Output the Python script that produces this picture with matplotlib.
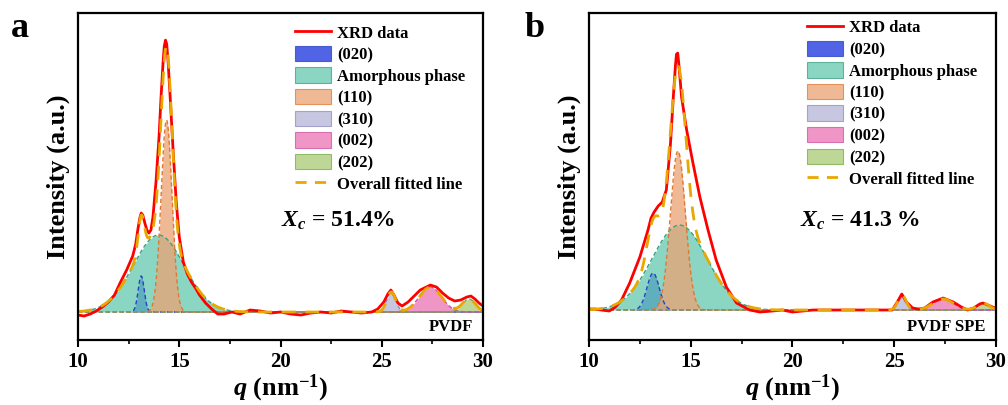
import numpy as np
import matplotlib
matplotlib.use("Agg")
import matplotlib.pyplot as plt
from matplotlib.lines import Line2D
from matplotlib.patches import Patch

plt.rcParams['font.family'] = ['Liberation Serif', 'DejaVu Serif']
plt.rcParams['font.weight'] = 'bold'
plt.rcParams['axes.labelweight'] = 'bold'
plt.rcParams['mathtext.fontset'] = 'custom'
plt.rcParams['mathtext.it'] = 'Liberation Serif:italic:bold'
plt.rcParams['mathtext.rm'] = 'Liberation Serif:bold'
plt.rcParams['mathtext.bf'] = 'Liberation Serif:bold'

# ---- data (intensity in arbitrary units) ----
peak_names = ['(020)', 'Amorphous phase', '(110)', '(310)', '(002)', '(202)']

# panel a: PVDF
q_a = [10.0, 10.3, 10.6, 10.9, 11.2, 11.5, 11.8, 12.1, 12.4, 12.7, 12.85, 12.95, 13.05,
       13.12, 13.2, 13.3, 13.4, 13.5, 13.6, 13.7, 13.85, 14.0, 14.1, 14.2, 14.26, 14.32,
       14.38, 14.45, 14.55, 14.7, 14.85, 15.0, 15.2, 15.4, 15.6, 15.8, 16.0, 16.3, 16.6,
       16.9, 17.2, 17.6, 18.0, 18.5, 19.0, 19.5, 20.0, 20.5, 21.0, 21.5, 22.0, 22.5,
       23.0, 23.5, 24.0, 24.5, 24.8, 25.1, 25.3, 25.45, 25.6, 25.8, 26.0, 26.3, 26.6,
       26.9, 27.2, 27.4, 27.7, 28.0, 28.3, 28.6, 28.9, 29.2, 29.4, 29.6, 29.8, 30.0]
xrd_a = [-3, -4, -2, 1, 5, 10, 17, 30, 42, 56, 68, 82, 94,
         99, 97, 89, 82, 79, 82, 95, 130, 175, 215, 250, 266, 272,
         268, 250, 215, 160, 110, 75, 50, 38, 30, 24, 17, 9, 3,
         -2, -2, 0, -2, 2, 1, -1, 0, -2, -3, -1, 0, -1,
         1, 0, -1, 0, 3, 10, 18, 22, 17, 9, 6, 10, 16,
         22, 25, 27, 25, 19, 14, 11, 12, 15, 16, 13, 9, 6]
center_a = [13.12, 13.98, 14.37, 25.47, 27.4, 29.3]
height_a = [36, 77, 192, 20, 25, 13]
width_a = [0.15, 1.25, 0.27, 0.22, 0.55, 0.33]

# panel b: PVDF SPE
q_b = [10.0, 10.3, 10.6, 11.0, 11.3, 11.6, 12.0, 12.5, 12.9, 13.05, 13.2, 13.4, 13.6,
       13.8, 14.0, 14.15, 14.25, 14.3, 14.36, 14.42, 14.55, 14.8, 15.1, 15.45, 15.85,
       16.25, 16.75, 17.25, 17.9, 18.4, 19.0, 19.5, 20.0, 20.5, 21.0, 21.5, 22.0, 23.0,
       24.0, 24.9, 25.15, 25.37, 25.6, 25.9, 26.2, 26.5, 26.9, 27.4, 27.9, 28.3, 28.6,
       28.9, 29.2, 29.36, 29.6, 29.95]
xrd_b = [1, 1, 0, -1, 3, 10, 27, 53, 80, 92, 98, 104, 108,
         120, 165, 215, 245, 256, 257, 245, 213, 180, 148, 113, 80,
         50, 23, 7, 0, -2, -1, 0, -2, -1, 0, 0, 0, 0,
         0, 0, 8, 16, 8, 2, 1, 2, 8, 12, 8, 3, 0,
         2, 6, 7, 5, 2]
center_b = [13.15, 14.45, 14.37, 25.38, 27.4, 29.37]
height_b = [37, 85, 159, 15, 11, 7]
width_b = [0.3, 1.35, 0.37, 0.2, 0.5, 0.3]

fill_colors = ['#1530dd', '#65c9af', '#eba273', '#b5b5d7', '#eb73b5', '#a8ca73']
edge_colors = ['#2840c8', '#3ca082', '#e07830', '#8c8cbe', '#d050a0', '#78aa46']
xrd_color = '#ff0000'
fit_color = '#e8a800'


def draw_panel(ax, q, xrd, centers, heights, widths, xc_text, sample, ylim,
               legend_y, xc_pos):
    x = np.linspace(10, 30, 2000)
    total = np.zeros_like(x)
    for c, h, w, fc, ec in zip(centers, heights, widths, fill_colors, edge_colors):
        y = h * np.exp(-(x - c) ** 2 / (2 * w ** 2))
        total += y
        ax.fill_between(x, 0, y, color=fc, alpha=0.75, lw=0)
        ax.plot(x, y, color=ec, lw=1.0, ls=(0, (3, 2)))
    ax.plot(q, xrd, color=xrd_color, lw=2.0)
    ax.plot(x, total, color=fit_color, lw=2.0, ls=(0, (5, 3.5)))

    ax.set_xlim(10, 30)
    ax.set_ylim(*ylim)
    ax.set_xticks([10, 15, 20, 25, 30])
    ax.set_xticks([12.5, 17.5, 22.5, 27.5], minor=True)
    ax.set_yticks([])
    ax.tick_params(axis='x', which='major', direction='out', length=5, width=1.5,
                   labelsize=15, pad=4)
    ax.tick_params(axis='x', which='minor', direction='out', length=3, width=1.2)
    for s in ax.spines.values():
        s.set_linewidth(1.6)
    ax.set_xlabel(r'$q$ (nm$^{\mathregular{-1}}$)', fontsize=19, labelpad=0)
    ax.set_ylabel('Intensity (a.u.)', fontsize=19, labelpad=6)

    handles = [Line2D([], [], color=xrd_color, lw=2.0)]
    for fc, ec in zip(fill_colors, edge_colors):
        handles.append(Patch(facecolor=fc, alpha=0.75, edgecolor=ec, lw=0.8))
    handles.append(Line2D([], [], color=fit_color, lw=2.0, ls=(0, (4, 3))))
    labels = ['XRD data'] + peak_names + ['Overall fitted line']
    ax.legend(handles, labels, loc='upper left', bbox_to_anchor=(0.535, legend_y),
              frameon=False, fontsize=12, borderpad=0, borderaxespad=0,
              handlelength=2.2, handleheight=1.05, handletextpad=0.35,
              labelspacing=0.25)

    ax.text(xc_pos[0], xc_pos[1], xc_text, transform=ax.transAxes, fontsize=17,
            ha='left', va='center')
    ax.text(0.975, 0.04, sample, transform=ax.transAxes, fontsize=12,
            ha='right', va='center')


fig = plt.figure(figsize=(10.08, 4.05), dpi=100)
ax_a = fig.add_axes([0.0774, 0.1605, 0.4018, 0.807])
ax_b = fig.add_axes([0.5843, 0.1605, 0.4038, 0.807])

draw_panel(ax_a, q_a, xrd_a, center_a, height_a, width_a, r'$X_c$ = 51.4%', 'PVDF',
           (-28, 299), 0.966, (0.5, 0.365))
draw_panel(ax_b, q_b, xrd_b, center_b, height_b, width_b, r'$X_c$ = 41.3 %', 'PVDF SPE',
           (-30, 297), 0.982, (0.518, 0.365))

fig.text(0.011, 0.909, 'a', fontsize=26, ha='left', va='baseline')
fig.text(0.52, 0.909, 'b', fontsize=26, ha='left', va='baseline')

fig.savefig('out.png', dpi=100)
